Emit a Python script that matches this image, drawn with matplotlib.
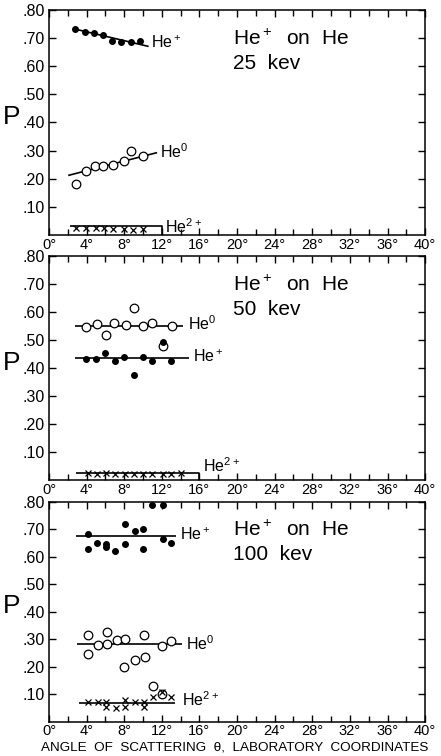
"""
Charge-state fractions P of helium scattered from helium, plotted against
laboratory scattering angle for 25, 50 and 100 kev He+ beams.
"""

import matplotlib
matplotlib.use("Agg")
import matplotlib.pyplot as plt
from matplotlib.ticker import MultipleLocator, FixedLocator
import matplotlib.transforms as mtransforms

plt.rcParams['font.family'] = ['Liberation Sans', 'DejaVu Sans']
plt.rcParams['mathtext.default'] = 'regular'

# ---- 25 kev ----
he1_x_25 = [2.8, 3.8, 4.8, 5.7, 6.7, 7.7, 8.7, 9.7]
he1_p_25 = [0.733, 0.723, 0.717, 0.712, 0.690, 0.687, 0.684, 0.688]
he0_x_25 = [2.9, 3.9, 4.9, 5.8, 6.8, 8.0, 8.7, 10.0]
he0_p_25 = [0.182, 0.226, 0.244, 0.244, 0.249, 0.264, 0.297, 0.282]
he2_x_25 = [2.9, 3.9, 5.0, 5.9, 6.8, 8.0, 8.9, 10.0]
he2_p_25 = [0.027, 0.025, 0.024, 0.024, 0.022, 0.020, 0.019, 0.020]
fit_he1_25 = ([2.6, 10.6], [0.733, 0.670])
fit_he0_25 = ([2.05, 11.5], [0.212, 0.293])
fit_he2_25 = ([2.2, 12.0, 12.0], [0.033, 0.033, 0.0])

# ---- 50 kev ----
he0_x_50 = [3.9, 5.1, 6.1, 6.9, 8.2, 9.0, 10.0, 11.0, 12.1, 13.1]
he0_p_50 = [0.546, 0.558, 0.519, 0.560, 0.554, 0.615, 0.552, 0.560, 0.480, 0.550]
he1_x_50 = [3.9, 5.0, 6.0, 7.0, 8.0, 9.0, 10.0, 11.0, 12.1, 13.0]
he1_p_50 = [0.433, 0.433, 0.456, 0.427, 0.439, 0.376, 0.439, 0.424, 0.495, 0.424]
he2_x_50 = [4.1, 5.1, 6.1, 7.0, 8.1, 9.0, 10.0, 11.0, 12.1, 13.0, 14.0]
he2_p_50 = [0.024, 0.021, 0.024, 0.021, 0.023, 0.021, 0.021, 0.021, 0.022, 0.021, 0.024]
fit_he0_50 = ([2.8, 14.3], [0.552, 0.552])
fit_he1_50 = ([2.8, 14.9], [0.436, 0.436])
fit_he2_50 = ([2.9, 16.0, 16.0], [0.025, 0.025, 0.0])

# ---- 100 kev ----
he1_x_100 = [4.1, 4.1, 5.1, 6.1, 6.1, 7.0, 8.1, 8.1, 9.1, 10.0, 10.0, 11.0, 12.1, 12.1, 13.0]
he1_p_100 = [0.681, 0.629, 0.651, 0.647, 0.636, 0.620, 0.720, 0.645, 0.693, 0.701, 0.629,
             0.787, 0.787, 0.666, 0.651]
he0_x_100 = [4.1, 4.1, 5.2, 6.2, 6.2, 7.2, 8.1, 8.0, 9.1, 10.1, 10.2, 11.1, 12.0, 12.0, 13.0]
he0_p_100 = [0.317, 0.247, 0.280, 0.325, 0.283, 0.298, 0.301, 0.199, 0.225, 0.317, 0.237,
             0.130, 0.100, 0.277, 0.293]
he2_x_100 = [4.1, 5.2, 6.1, 6.1, 7.1, 8.1, 8.1, 9.1, 10.1, 10.1, 11.1, 12.0, 13.0]
he2_p_100 = [0.072, 0.072, 0.072, 0.054, 0.048, 0.078, 0.052, 0.072, 0.071, 0.054,
             0.088, 0.108, 0.090]
fit_he1_100 = ([2.9, 13.5], [0.677, 0.677])
fit_he0_100 = ([3.0, 14.2], [0.281, 0.281])
fit_he2_100 = ([3.2, 13.4], [0.069, 0.069])

y_ticks = [0.1, 0.2, 0.3, 0.4, 0.5, 0.6, 0.7, 0.8]
y_labels = ['.10', '.20', '.30', '.40', '.50', '.60', '.70', '.80']
x_ticks = [0, 4, 8, 12, 16, 20, 24, 28, 32, 36, 40]
x_labels = [f'{t}°' for t in x_ticks]

LW = 1.2


def dots(ax, x, y):
    ax.plot(x, y, 'o', color='black', ms=4.0, ls='none')


def circles(ax, x, y):
    ax.plot(x, y, 'o', mfc='white', mec='black', mew=0.9, ms=6.2, ls='none')


def crosses(ax, x, y):
    ax.plot(x, y, 'x', color='black', mew=0.9, ms=5.0, ls='none')


def fit(ax, line):
    ax.plot(line[0], line[1], color='black', lw=LW, solid_capstyle='butt')


def ion_label(ax, x, y, text):
    ax.text(x, y, text, fontsize=11.5, va='baseline', ha='left')


def setup_axes(ax, energy):
    ax.set_xlim(0, 40)
    ax.set_ylim(0, 0.8)
    ax.xaxis.set_major_locator(FixedLocator(x_ticks))
    ax.xaxis.set_minor_locator(MultipleLocator(2))
    ax.set_xticklabels(x_labels)
    ax.set_yticks(y_ticks)
    ax.set_yticklabels(y_labels)
    ax.tick_params(which='both', direction='in', top=True, right=True, width=1.0)
    ax.tick_params(which='major', length=5, pad=2)
    ax.tick_params(which='minor', length=4)
    ax.tick_params(axis='x', labelsize=10.5)
    ax.tick_params(axis='y', labelsize=11.5, pad=3)
    for s in ax.spines.values():
        s.set_linewidth(1.1)
    ax.text(0.49, 0.915, f'He$^+$  on  He\n{energy}  kev', transform=ax.transAxes,
            fontsize=15, va='top', ha='left', linespacing=1.3)
    trans = mtransforms.blended_transform_factory(ax.transAxes, ax.transData)
    ax.text(-0.098, 0.42, 'P', transform=trans, fontsize=19, ha='center', va='center')


fig = plt.figure(figsize=(4.41, 7.56), dpi=100)
ax1 = fig.add_axes([0.111, 0.689, 0.853, 0.298])
ax2 = fig.add_axes([0.111, 0.365, 0.853, 0.296])
ax3 = fig.add_axes([0.111, 0.0454, 0.853, 0.291])

# 25 kev
setup_axes(ax1, 25)
fit(ax1, fit_he1_25)
fit(ax1, fit_he0_25)
fit(ax1, fit_he2_25)
dots(ax1, he1_x_25, he1_p_25)
circles(ax1, he0_x_25, he0_p_25)
crosses(ax1, he2_x_25, he2_p_25)
ion_label(ax1, 10.9, 0.664, 'He$^+$')
ion_label(ax1, 11.8, 0.273, 'He$^0$')
ion_label(ax1, 12.35, 0.007, 'He$^{2+}$')

# 50 kev
setup_axes(ax2, 50)
fit(ax2, fit_he0_50)
fit(ax2, fit_he1_50)
fit(ax2, fit_he2_50)
circles(ax2, he0_x_50, he0_p_50)
dots(ax2, he1_x_50, he1_p_50)
crosses(ax2, he2_x_50, he2_p_50)
ion_label(ax2, 14.8, 0.537, 'He$^0$')
ion_label(ax2, 15.3, 0.421, 'He$^+$')
ion_label(ax2, 16.4, 0.03, 'He$^{2+}$')

# 100 kev
setup_axes(ax3, 100)
fit(ax3, fit_he1_100)
fit(ax3, fit_he0_100)
fit(ax3, fit_he2_100)
dots(ax3, he1_x_100, he1_p_100)
circles(ax3, he0_x_100, he0_p_100)
crosses(ax3, he2_x_100, he2_p_100)
ion_label(ax3, 13.9, 0.659, 'He$^+$')
ion_label(ax3, 14.6, 0.261, 'He$^0$')
ion_label(ax3, 14.1, 0.057, 'He$^{2+}$')

fig.text(0.533, 0.003, 'ANGLE  OF  SCATTERING  θ,  LABORATORY  COORDINATES',
         ha='center', va='bottom', fontsize=9.7)

fig.savefig('out.png', dpi=100)
